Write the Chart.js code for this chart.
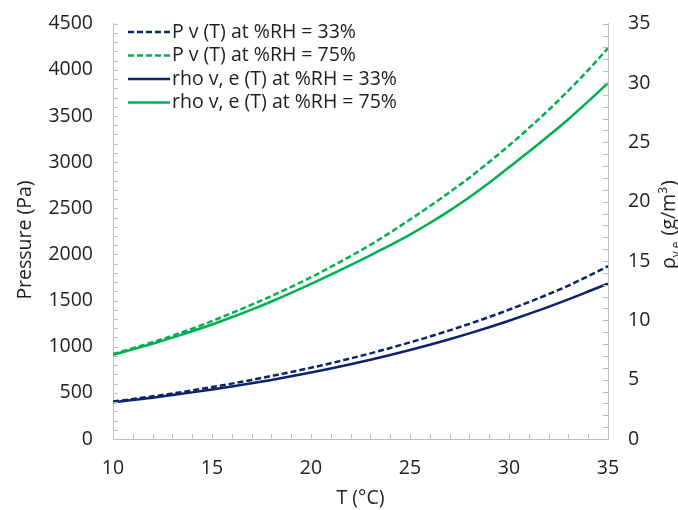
<!DOCTYPE html>
<html>
<head>
<meta charset="utf-8">
<script src="https://cdn.jsdelivr.net/npm/chart.js@4/dist/chart.umd.min.js"></script>
<style>
  html, body { margin: 0; padding: 0; background: #fff; }
  #wrap { width: 678px; height: 510px; }
</style>
</head>
<body>
<div id="wrap"><canvas id="c" width="678" height="510"></canvas></div>
<script>
// Temperature (°C)
const temps = [10,11,12,13,14,15,16,17,18,19,20,21,22,23,24,25,26,27,28,29,30,31,32,33,34,35];
// Vapour pressure (Pa)
const pv33 = [405,433,462,493,527,563,600,640,682,726,772,821,873,928,986,1047,1110,1177,1248,1322,1401,1483,1570,1662,1765,1872];
const pv75 = [920,983,1049,1119,1195,1278,1364,1455,1549,1648,1753,1864,1981,2104,2237,2378,2522,2673,2832,3002,3180,3368,3565,3775,3997,4235];
// Vapour density (g/m3)
const rho33 = [3.10,3.28,3.48,3.70,3.93,4.17,4.42,4.69,4.98,5.28,5.60,5.94,6.30,6.68,7.08,7.50,7.94,8.41,8.90,9.42,9.97,10.54,11.14,11.77,12.43,13.10];
const rho75 = [7.10,7.55,8.03,8.54,9.08,9.65,10.26,10.90,11.59,12.32,13.08,13.85,14.65,15.48,16.33,17.22,18.20,19.25,20.38,21.60,22.90,24.20,25.55,26.95,28.45,30.00];
const seriesLabels = ['P v (T) at %RH = 33%', 'P v (T) at %RH = 75%', 'rho v, e (T) at %RH = 33%', 'rho v, e (T) at %RH = 75%'];
const xTicks = [10,15,20,25,30,35];
const yLeftTicks = [0,500,1000,1500,2000,2500,3000,3500,4000,4500];
const yRightTicks = [0,5,10,15,20,25,30,35];

const NAVY = '#0a2369';
const GREEN = '#00b050';
const AXIS = '#bfbfbf';
const TXT = '#1e1e1e';
const FONT = "'Open Sans', 'DejaVu Sans', sans-serif";
const FS = 19.5;

const pts = arr => temps.map((t, i) => ({x: t, y: arr[i]}));

const minorTicks = {
  id: 'minorTicks',
  afterDraw(chart) {
    const {ctx, chartArea: a, scales} = chart;
    ctx.save();
    ctx.strokeStyle = AXIS;
    ctx.lineWidth = 1;
    ctx.beginPath();
    for (let v = 0; v <= 4500; v += 100) {
      const y = Math.round(scales.y.getPixelForValue(v)) + 0.5;
      ctx.moveTo(a.left, y); ctx.lineTo(a.left + 5, y);
    }
    for (let v = 0; v <= 35; v += 1) {
      const y = Math.round(scales.y1.getPixelForValue(v)) + 0.5;
      ctx.moveTo(a.right, y); ctx.lineTo(a.right - 5, y);
    }
    for (let v = 10; v <= 35; v += 1) {
      const x = Math.round(scales.x.getPixelForValue(v)) + 0.5;
      ctx.moveTo(x, a.bottom); ctx.lineTo(x, a.bottom - 5);
    }
    ctx.stroke();
    ctx.restore();
  }
};

const extras = {
  id: 'extras',
  afterDraw(chart) {
    const {ctx} = chart;
    ctx.save();
    ctx.fillStyle = TXT;
    // Left axis title
    ctx.save();
    ctx.translate(25, 240);
    ctx.rotate(-Math.PI / 2);
    ctx.font = FS + 'px ' + FONT;
    ctx.textAlign = 'center';
    ctx.textBaseline = 'middle';
    ctx.fillText('Pressure (Pa)', 0, 0);
    ctx.restore();
    // Right axis title: ρ_{v,e} (g/m^3)
    ctx.save();
    ctx.translate(675, 269);
    ctx.rotate(-Math.PI / 2);
    ctx.textAlign = 'left';
    ctx.textBaseline = 'alphabetic';
    let x = 0;
    const big = FS + 'px ' + FONT, small = '12px ' + FONT;
    const parts = [['ρ', big, 0], ['v,e', small, 5], [' (g/m', big, 0], ['3', small, -8], [')', big, 0]];
    for (const [t, f, dy] of parts) {
      ctx.font = f;
      ctx.fillText(t, x, dy);
      x += ctx.measureText(t).width + (f === small ? 1 : 0);
    }
    ctx.restore();
    // Legend
    const rows = [32, 55.5, 79, 102.5];
    chart.data.datasets.forEach((ds, i) => {
      const y = rows[i];
      ctx.save();
      ctx.strokeStyle = ds.borderColor;
      ctx.lineWidth = 2.5;
      ctx.setLineDash(ds.borderDash || []);
      ctx.beginPath();
      ctx.moveTo(128, y); ctx.lineTo(170, y);
      ctx.stroke();
      ctx.restore();
      ctx.font = FS + 'px ' + FONT;
      ctx.textAlign = 'left';
      ctx.textBaseline = 'middle';
      ctx.fillStyle = TXT;
      ctx.fillText(ds.label, 172, y);
    });
    ctx.restore();
  }
};

const tickFont = {family: FONT, size: FS};
const plain = v => String(v);

new Chart(document.getElementById('c'), {
  type: 'line',
  data: {
    datasets: [
      {label: seriesLabels[0], data: pts(pv33), yAxisID: 'y', borderColor: NAVY, borderDash: [6, 3], borderWidth: 2.5},
      {label: seriesLabels[1], data: pts(pv75), yAxisID: 'y', borderColor: GREEN, borderDash: [6, 3], borderWidth: 2.5},
      {label: seriesLabels[2], data: pts(rho33), yAxisID: 'y1', borderColor: NAVY, borderWidth: 2.5},
      {label: seriesLabels[3], data: pts(rho75), yAxisID: 'y1', borderColor: GREEN, borderWidth: 2.5}
    ]
  },
  options: {
    responsive: false,
    animation: false,
    layout: {padding: {top: 19, left: 0, right: 0, bottom: 0}},
    elements: {point: {radius: 0}, line: {cubicInterpolationMode: 'monotone', fill: false}},
    plugins: {legend: {display: false}, tooltip: {enabled: false}},
    scales: {
      x: {
        type: 'linear', position: 'bottom', min: 10, max: 35,
        afterBuildTicks: s => { s.ticks = xTicks.map(v => ({value: v})); },
        afterFit: s => { s.height = 71; },
        grid: {display: false},
        border: {display: true, color: AXIS, width: 1},
        ticks: {color: TXT, font: tickFont, padding: 10, maxRotation: 0, callback: plain},
        title: {display: true, text: 'T (°C)', color: TXT, font: tickFont, padding: {top: 0, bottom: 0}}
      },
      y: {
        type: 'linear', position: 'left', min: 0, max: 4500,
        afterBuildTicks: s => { s.ticks = yLeftTicks.map(v => ({value: v})); },
        afterFit: s => { s.width = 113; },
        grid: {display: false},
        border: {display: true, color: AXIS, width: 1},
        ticks: {color: TXT, font: tickFont, padding: 12, callback: plain}
      },
      y1: {
        type: 'linear', position: 'right', min: 0, max: 35,
        afterBuildTicks: s => { s.ticks = yRightTicks.map(v => ({value: v})); },
        afterFit: s => { s.width = 70; },
        grid: {display: false},
        border: {display: true, color: AXIS, width: 1},
        ticks: {color: TXT, font: tickFont, padding: 12, callback: plain}
      }
    }
  },
  plugins: [minorTicks, extras]
});
</script>
</body>
</html>
